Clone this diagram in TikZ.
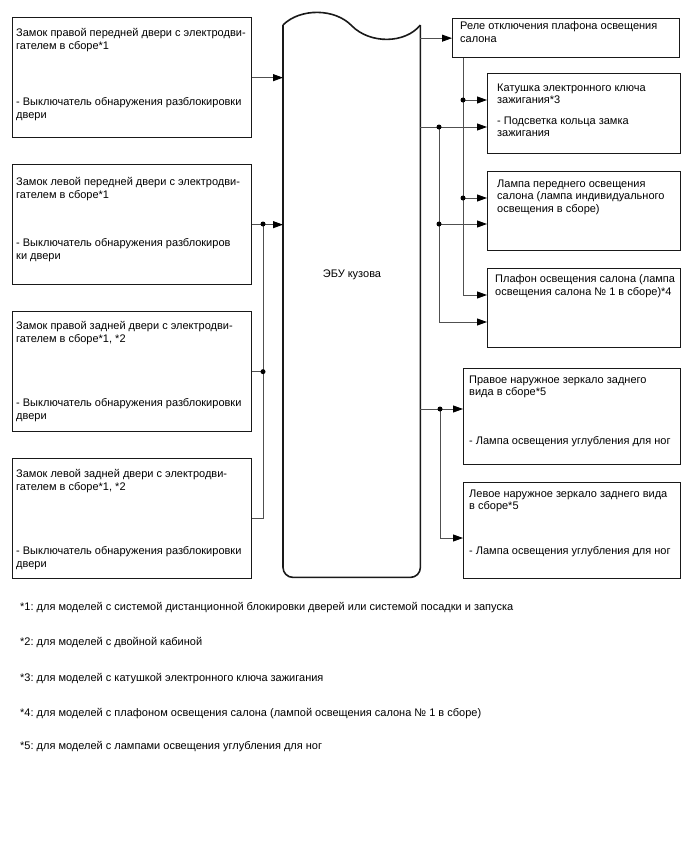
\documentclass[tikz,border=0pt]{standalone}
\usepackage{fontspec}
\setmainfont{Liberation Sans}
\definecolor{BoxLine}{RGB}{25,25,25}
\definecolor{WireGray}{RGB}{80,80,80}
\usetikzlibrary{arrows.meta,positioning,calc}

\begin{document}
\frenchspacing
\begin{tikzpicture}[x=1pt,y=-1pt,
    every node/.style={font=\fontsize{11}{12.5}\selectfont},
    unitbox/.style={draw=BoxLine,line width=1.3pt,anchor=north west,inner sep=0pt},
    txt/.style={anchor=north west,inner sep=0pt,align=left},
    wire/.style={draw=WireGray,line width=0.9pt},
    arr/.style={wire,-{Triangle[length=10pt,width=7pt,fill=black,color=black]}},
    eculine/.style={draw=BoxLine,line width=1.6pt}]
  \useasboundingbox (0,0) rectangle (688,852);

  % door lock assemblies
  \foreach \n/\top/\ya/\yb/\ta/\tb in {
      1/17/28.5/97.5/{Замок правой передней двери с электродви-\\гателем в сборе*1}/{- Выключатель обнаружения разблокировки\\двери},
      2/164/177.5/238.5/{Замок левой передней двери с электродви-\\гателем в сборе*1}/{- Выключатель обнаружения разблокиров\\ки двери},
      3/311/321.5/398.5/{Замок правой задней двери с электродви-\\гателем в сборе*1, *2}/{- Выключатель обнаружения разблокировки\\двери},
      4/458/469.5/546.5/{Замок левой задней двери с электродви-\\гателем в сборе*1, *2}/{- Выключатель обнаружения разблокировки\\двери}}{
    \node[unitbox,minimum width=239pt,minimum height=120pt] (d\n) at (12,\top) {};
    \node[txt] (d\n-t) at (16,\ya) {\ta};
    \node[txt] (d\n-s) at (16,\yb) {\tb};
  }

  % body ECU
  \node[inner sep=0pt,minimum width=137pt,minimum height=552pt,anchor=north west] (ecu) at (283,25) {};
  \draw[eculine,rounded corners=10pt] (ecu.north west) -- (ecu.south west) -- (ecu.south east) -- (ecu.north east);
  \draw[eculine] (ecu.north west) .. controls (300,8) and (335,8) .. (352,26)
    .. controls (370,44) and (405,44) .. (ecu.north east);
  \node (ecu-l) at (352,275) {ЭБУ кузова};

  % loads
  \node[unitbox,minimum width=227pt,minimum height=39pt] (rel) at (452,18) {};
  \node[txt] (rel-t) at (460,21.8) {Реле отключения плафона освещения\\салона};
  \node[unitbox,minimum width=193pt,minimum height=80pt] (key) at (487,73) {};
  \node[txt] (key-t) at (497,83.5) {Катушка электронного ключа\\зажигания*3};
  \node[txt] (key-s) at (497,116.5) {- Подсветка кольца замка\\зажигания};
  \node[unitbox,minimum width=193pt,minimum height=79pt] (lamp) at (487,171) {};
  \node[txt] (lamp-t) at (497,179.5) {Лампа переднего освещения\\салона (лампа индивидуального\\освещения в сборе)};
  \node[unitbox,minimum width=193pt,minimum height=79pt] (dome) at (487,268) {};
  \node[txt] (dome-t) at (495,274.5) {Плафон освещения салона (лампа\\освещения салона № 1 в сборе)*4};
  \node[unitbox,minimum width=217pt,minimum height=96pt] (mr) at (463,368) {};
  \node[txt] (mr-t) at (469,375.5) {Правое наружное зеркало заднего\\вида в сборе*5};
  \node[txt] (mr-s) at (469,436.5) {- Лампа освещения углубления для ног};
  \node[unitbox,minimum width=217pt,minimum height=96pt] (ml) at (463,482) {};
  \node[txt] (ml-t) at (469,489.5) {Левое наружное зеркало заднего вида\\в сборе*5};
  \node[txt] (ml-s) at (469,546.5) {- Лампа освещения углубления для ног};

  % junctions
  \coordinate (j1) at (463,100);
  \coordinate (j2) at (463,198);
  \coordinate (j3) at (439,127);
  \coordinate (j4) at (439,224);
  \coordinate (j5) at (440,409);
  \coordinate (j6) at (263,224);
  \coordinate (j7) at (j6 |- d3.east);
  \coordinate (c1) at (463,295);
  \coordinate (c2) at (439,322);
  \coordinate (c3) at (440,538);

  % wiring, left side
  \draw[arr] (d1.east) -- (d1.east -| ecu.west);
  \draw[arr] (d2.east) -- (d2.east -| ecu.west);
  \draw[wire] (d3.east) -- (j7);
  \draw[wire] (j6) -- (j6 |- d4.east) -- (d4.east);

  % wiring, right side
  \draw[arr] (rel.west -| ecu.east) -- (rel.west);
  \draw[arr] (rel.south -| j1) -- (c1) -- (c1 -| dome.west);
  \draw[arr] (j1) -- (j1 -| key.west);
  \draw[arr] (j2) -- (j2 -| lamp.west);
  \draw[arr] (j3 -| ecu.east) -- (j3 -| key.west);
  \draw[arr] (j3) -- (c2) -- (c2 -| dome.west);
  \draw[arr] (j4) -- (j4 -| lamp.west);
  \draw[arr] (j5 -| ecu.east) -- (j5 -| mr.west);
  \draw[arr] (j5) -- (c3) -- (c3 -| ml.west);
  \foreach \j in {j1,j2,j3,j4,j5,j6,j7}
    \fill (\j) circle (2.5pt);

  % notes
  \foreach \k/\y/\t in {
      1/608/{*1: для моделей с системой дистанционной блокировки дверей или системой посадки и запуска},
      2/643/{*2: для моделей с двойной кабиной},
      3/679/{*3: для моделей с катушкой электронного ключа зажигания},
      4/714/{*4: для моделей с плафоном освещения салона (лампой освещения салона № 1 в сборе)},
      5/747/{*5: для моделей с лампами освещения углубления для ног}}
    \node[anchor=west,inner sep=0pt] (fn\k) at (20,\y) {\t};
\end{tikzpicture}
\end{document}
